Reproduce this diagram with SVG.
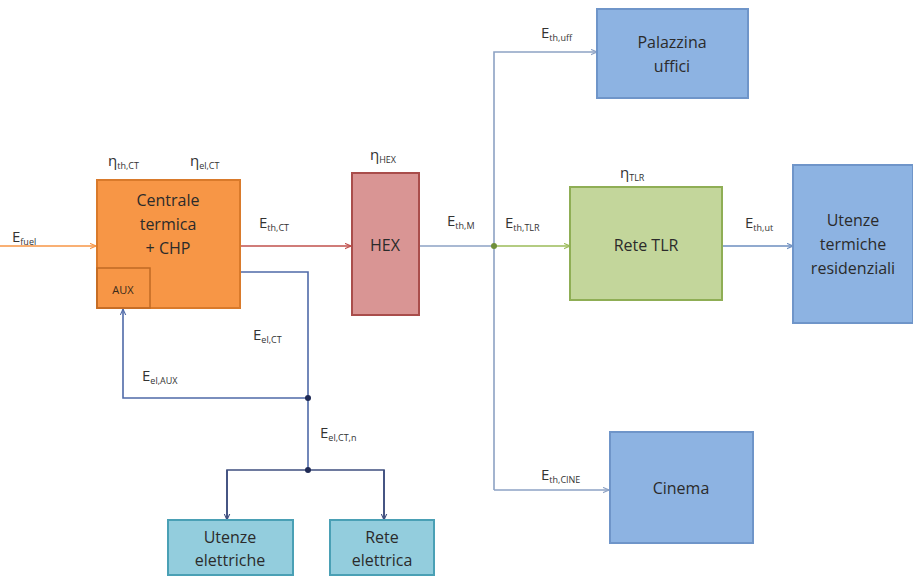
<svg xmlns="http://www.w3.org/2000/svg" width="913" height="577" viewBox="0 0 913 577">
<defs>
<style>
.box{stroke-width:2}
.bt{font-family:"Open Sans","Liberation Sans",sans-serif;font-size:16px;text-anchor:middle;fill:#2b2b2b}
.lb{font-family:"Open Sans","Liberation Sans",sans-serif;font-size:15px;fill:#333}
.sb{font-size:9px}
.ln{fill:none;stroke-width:1.6}
</style>
<marker id="ah" viewBox="0 0 10 10" refX="9" refY="5" markerWidth="7" markerHeight="7" orient="auto" markerUnits="userSpaceOnUse"><path d="M0,1 L9,5 L0,9" fill="none" stroke="context-stroke" stroke-width="1.5"/></marker>
</defs>
<rect width="913" height="577" fill="#fff"/>
<g id="connectors">
<path class="ln" d="M0,246 H96" stroke="#f79646" marker-end="url(#ah)"/>
<path class="ln" d="M241,246 H351" stroke="#c0504d" marker-end="url(#ah)"/>
<path class="ln" d="M419,246 H494" stroke="#8da2c4"/>
<path class="ln" d="M494,246 H570" stroke="#9bbb59" marker-end="url(#ah)"/>
<path class="ln" d="M494,490 V52 H597" stroke="#8da2c4" marker-end="url(#ah)"/>
<path class="ln" d="M494,490 H609" stroke="#8da2c4" marker-end="url(#ah)"/>
<path class="ln" d="M722,246 H793" stroke="#6c8ebf" marker-end="url(#ah)"/>
<path class="ln" d="M241,272 H308 V470" stroke="#4f6aa8"/>
<path class="ln" d="M308,398 H123 V309" stroke="#4f6aa8" marker-end="url(#ah)"/>
<path class="ln" d="M227,520 V470 H384 V520" stroke="#3f4f7f"/>
<path class="ln" d="M227,470 V520" stroke="#3f4f7f" marker-end="url(#ah)"/>
<path class="ln" d="M384,470 V520" stroke="#3f4f7f" marker-end="url(#ah)"/>
<circle cx="494" cy="246" r="3" fill="#6f8f3a"/>
<circle cx="308" cy="398" r="3" fill="#1f2a55"/>
<circle cx="308" cy="470" r="3" fill="#1f2a55"/>
</g>
<g id="centrale">
<rect class="box" x="97" y="180" width="143" height="128" fill="#f79646" stroke="#d97a2b"/>
<rect x="97" y="268" width="53" height="40" fill="none" stroke="#c06a25" stroke-width="1.5"/>
<text class="bt" x="168" y="206">Centrale</text>
<text class="bt" x="168" y="230">termica</text>
<text class="bt" x="168" y="254">+ CHP</text>
<text x="123" y="294" font-family="Open Sans,Liberation Sans,sans-serif" font-size="11" text-anchor="middle" fill="#3a2a1a">AUX</text>
</g>
<g id="hex">
<rect class="box" x="352" y="173" width="67" height="142" fill="#d99594" stroke="#a94d4b"/>
<text class="bt" x="385" y="251">HEX</text>
</g>
<g id="palazzina">
<rect class="box" x="597" y="9" width="151" height="89" fill="#8db3e2" stroke="#6f95c9"/>
<text class="bt" x="672" y="48">Palazzina</text>
<text class="bt" x="672" y="72">uffici</text>
</g>
<g id="retetlr">
<rect class="box" x="570" y="187" width="152" height="113" fill="#c3d69b" stroke="#8fae55"/>
<text class="bt" x="646" y="251">Rete TLR</text>
</g>
<g id="utenzeterm">
<rect class="box" x="793" y="165" width="120" height="158" fill="#8db3e2" stroke="#6f95c9"/>
<text class="bt" x="853" y="226">Utenze</text>
<text class="bt" x="853" y="250">termiche</text>
<text class="bt" x="853" y="274">residenziali</text>
</g>
<g id="cinema">
<rect class="box" x="610" y="432" width="143" height="111" fill="#8db3e2" stroke="#6f95c9"/>
<text class="bt" x="681" y="494">Cinema</text>
</g>
<g id="utenzeel">
<rect class="box" x="168" y="520" width="125" height="55" fill="#93cddd" stroke="#4aa0b5"/>
<text class="bt" x="230" y="543">Utenze</text>
<text class="bt" x="230" y="566">elettriche</text>
</g>
<g id="reteel">
<rect class="box" x="330" y="520" width="104" height="55" fill="#93cddd" stroke="#4aa0b5"/>
<text class="bt" x="382" y="543">Rete</text>
<text class="bt" x="382" y="566">elettrica</text>
</g>
<g id="labels">
<text class="lb" x="12" y="242">E<tspan class="sb" dy="3">fuel</tspan></text>
<text class="lb" x="108" y="166">η<tspan class="sb" dy="3">th,CT</tspan></text>
<text class="lb" x="190" y="166">η<tspan class="sb" dy="3">el,CT</tspan></text>
<text class="lb" x="259" y="228">E<tspan class="sb" dy="3">th,CT</tspan></text>
<text class="lb" x="370" y="160">η<tspan class="sb" dy="3">HEX</tspan></text>
<text class="lb" x="447" y="226">E<tspan class="sb" dy="3">th,M</tspan></text>
<text class="lb" x="505" y="228">E<tspan class="sb" dy="3">th,TLR</tspan></text>
<text class="lb" x="541" y="38">E<tspan class="sb" dy="3">th,uff</tspan></text>
<text class="lb" x="620" y="178">η<tspan class="sb" dy="3">TLR</tspan></text>
<text class="lb" x="745" y="228">E<tspan class="sb" dy="3">th,ut</tspan></text>
<text class="lb" x="541" y="480">E<tspan class="sb" dy="3">th,CINE</tspan></text>
<text class="lb" x="253" y="340">E<tspan class="sb" dy="3">el,CT</tspan></text>
<text class="lb" x="142" y="381">E<tspan class="sb" dy="3">el,AUX</tspan></text>
<text class="lb" x="320" y="438">E<tspan class="sb" dy="3">el,CT,n</tspan></text>
</g>
</svg>
